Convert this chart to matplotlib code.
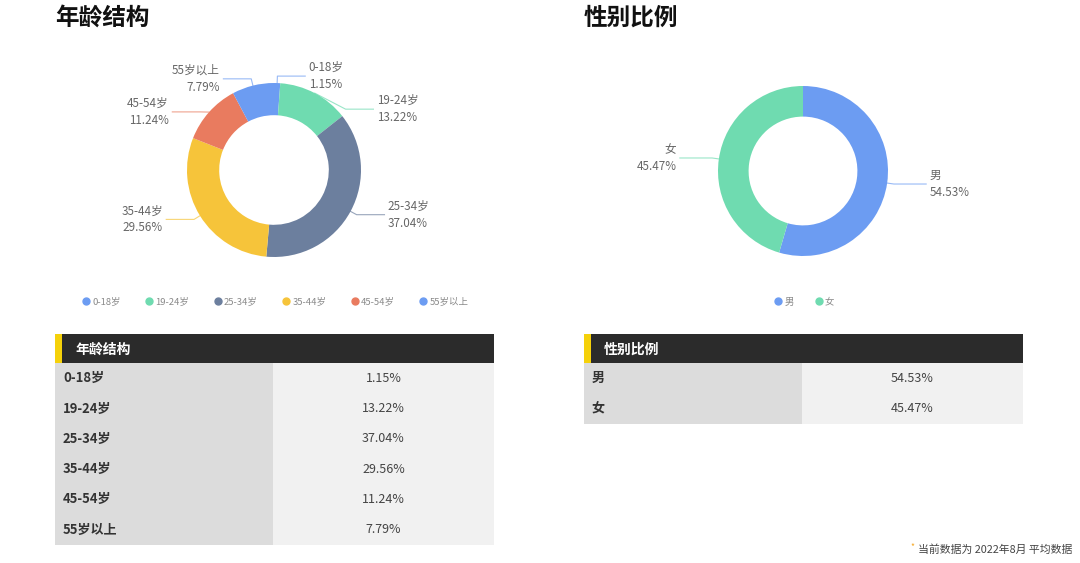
import numpy as np
import matplotlib
matplotlib.use("Agg")
import matplotlib.pyplot as plt
from matplotlib.patches import Rectangle
from matplotlib.lines import Line2D

plt.rcParams['font.family'] = ['Noto Sans CJK SC', 'DejaVu Sans']

# ---------------- data
age_groups = ['0-18岁', '19-24岁', '25-34岁', '35-44岁', '45-54岁', '55岁以上']
age_share = [1.15, 13.22, 37.04, 29.56, 11.24, 7.79]
age_colors = ['#6C9CF2', '#6FDBB0', '#6C7F9E', '#F6C43A', '#E97B5F', '#6C9CF2']

genders = ['男', '女']
gender_share = [54.53, 45.47]
gender_colors = ['#6C9CF2', '#6FDBB0']

W, H = 1080, 563
fig = plt.figure(figsize=(W / 100, H / 100), dpi=100)
fig.patch.set_facecolor('white')

# overlay axes in pixel coords (y down) for titles and tables
bg = fig.add_axes([0, 0, 1, 1])
bg.set_xlim(0, W)
bg.set_ylim(H, 0)
bg.axis('off')


def donut(cx, cy, R, names, values, colors, width, seg=0.32):
    L = 1.6
    ax = fig.add_axes([(cx - L * R) / W, (H - cy - L * R) / H, 2 * L * R / W, 2 * L * R / H])
    wedges, _ = ax.pie(values, colors=colors, startangle=90, counterclock=False,
                       radius=1, wedgeprops=dict(width=width, linewidth=0))
    ax.set_xlim(-L, L)
    ax.set_ylim(-L, L)
    ax.set_aspect('equal')
    ax.axis('off')

    re = 1.08
    gap = 0.38
    labs = []
    for w, n, v, c in zip(wedges, names, values, colors):
        mid = np.deg2rad((w.theta1 + w.theta2) / 2)
        labs.append(dict(n=n, v=v, c=c, ax=np.cos(mid), ay=np.sin(mid),
                         ex=re * np.cos(mid), ey=re * np.sin(mid)))
    for side in (1, -1):
        items = sorted([d for d in labs if np.sign(d['ax']) == side], key=lambda d: -d['ey'])
        prev = None
        for d in items:
            if prev is not None and d['ey'] > prev - gap:
                d['ey'] = prev - gap
                d['ex'] = side * np.sqrt(max(re ** 2 - d['ey'] ** 2, 0))
            prev = d['ey']
        for d in items:
            x_end = d['ex'] + side * seg
            ax.plot([d['ax'], d['ex'], x_end], [d['ay'], d['ey'], d['ey']],
                    color=d['c'], lw=0.8, alpha=0.7)
            ax.text(x_end + side * 0.04, d['ey'], f"{d['n']}\n{d['v']:.2f}%",
                    ha='left' if side > 0 else 'right', va='center',
                    fontsize=8.4, color='#666666', linespacing=1.4)


def legend(cx, cy, names, colors, spacing):
    handles = [Line2D([], [], marker='o', ls='none', markersize=5,
                      markerfacecolor=c, markeredgecolor=c) for c in colors]
    fig.legend(handles, names, loc='center', bbox_to_anchor=(cx / W, 1 - cy / H),
               ncol=len(names), frameon=False, fontsize=6.8, labelcolor='#8a8a8a',
               handletextpad=0.15, columnspacing=spacing, handlelength=1.0)


def table(x0, x1, xm, y0, title, names, values):
    hh = 29
    rh = 30.3
    bg.add_patch(Rectangle((x0, y0), x1 - x0, hh, color='#2b2b2b', lw=0))
    bg.add_patch(Rectangle((x0, y0), 7, hh, color='#F5D10A', lw=0))
    bg.text(x0 + 20, y0 + hh / 2 + 1, title, color='white', fontsize=10,
            fontweight='bold', va='center', ha='left')
    for i, (n, v) in enumerate(zip(names, values)):
        ty = y0 + hh + i * rh
        bg.add_patch(Rectangle((x0, ty), xm - x0, rh, color='#dcdcdc', lw=0))
        bg.add_patch(Rectangle((xm, ty), x1 - xm, rh, color='#f1f1f1', lw=0))
        bg.text(x0 + 8, ty + rh / 2, n, fontsize=9.4, fontweight='bold',
                color='#333333', va='center', ha='left')
        bg.text((xm + x1) / 2, ty + rh / 2, f"{v:.2f}%", fontsize=9,
                color='#444444', va='center', ha='center')


# titles
bg.text(55, 18, '年龄结构', fontsize=17, fontweight='bold', color='#111111', va='center')
bg.text(584, 18, '性别比例', fontsize=17, fontweight='bold', color='#111111', va='center')

donut(274, 170, 87, age_groups, age_share, age_colors, 0.37, seg=0.32)
donut(803, 171, 85, genders, gender_share, gender_colors, 0.36, seg=0.38)

legend(275, 302, age_groups, age_colors, 2.5)
legend(804, 302, genders, gender_colors, 2.1)

table(55, 494, 273, 334, '年龄结构', age_groups, age_share)
table(584, 1023, 802, 334, '性别比例', genders, gender_share)

# footnote
bg.text(1072, 550, '当前数据为 2022年8月 平均数据', fontsize=7.8, color='#444444',
        ha='right', va='center')
bg.text(912, 547, '*', fontsize=6, color='#F5A623', ha='center', va='center')

fig.savefig('out.png', dpi=100)
